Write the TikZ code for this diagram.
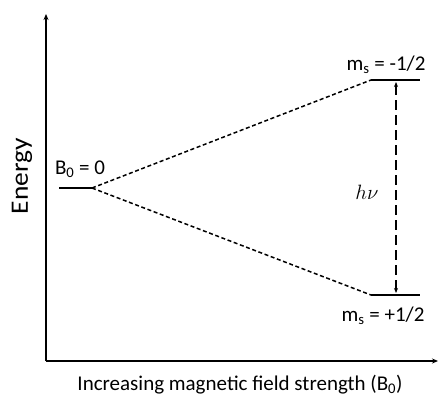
\documentclass[tikz,border=0pt]{standalone}
\usepackage{fontspec}
\setmainfont{Carlito}
\usetikzlibrary{arrows.meta}
\begin{document}
\begin{tikzpicture}[x=1pt, y=-1pt,
  axis/.style={line width=1.8pt, -{Stealth[length=6pt,width=5pt]}},
  level/.style={line width=1.7pt},
  split/.style={line width=1.5pt, dash pattern=on 4pt off 2.6pt},
  lbl/.style={font=\fontsize{21}{24}\selectfont, inner sep=0pt}]
  \useasboundingbox (0,0) rectangle (438,397);

  % -- Axes --
  \coordinate (origin) at (46,361);
  \coordinate (ytop) at (46,14);
  \coordinate (xend) at (438,361);
  \draw[axis] (origin) -- (ytop);
  \draw[axis] (origin) -- (xend);
  \node[lbl, font=\fontsize{25}{28}\selectfont, rotate=90] (energy) at (22,176) {\scalebox{1.1}[1]{Energy}};
  \node[lbl] (field) at (240,385) {Increasing magnetic field strength (B\textsubscript{0})};

  % -- Zero field level --
  \coordinate (b0l) at (59,188);
  \coordinate (b0r) at (92,188);
  \draw[level] (b0l) -- (b0r);
  \node[lbl] (b0) at (80,169) {B\textsubscript{0} = 0};

  % -- Split levels --
  \coordinate (upl) at (371,80);
  \coordinate (upr) at (420,80);
  \coordinate (lol) at (371,295);
  \coordinate (lor) at (420,295);
  \draw[level] (upl) -- (upr);
  \draw[level] (lol) -- (lor);
  \node[lbl] (msup) at (386,65) {m\textsubscript{s} = -1/2};
  \node[lbl] (mslo) at (383,316) {m\textsubscript{s} = +1/2};
  \draw[split] (b0r) -- (upl);
  \draw[split] (b0r) -- (lol);

  % -- Transition --
  \coordinate (hvtop) at (396,80);
  \coordinate (hvbot) at (396,295);
  \draw[line width=1.4pt, dash pattern=on 10pt off 5pt, {Stealth[length=5pt,width=4pt]}-{Stealth[length=5pt,width=4pt]}] ([yshift=-2pt]hvtop) -- ([yshift=2pt]hvbot);
  \node[font=\fontsize{22}{26}\selectfont, inner sep=0pt] (hv) at (367,192) {$h\nu$};

\end{tikzpicture}
\end{document}
